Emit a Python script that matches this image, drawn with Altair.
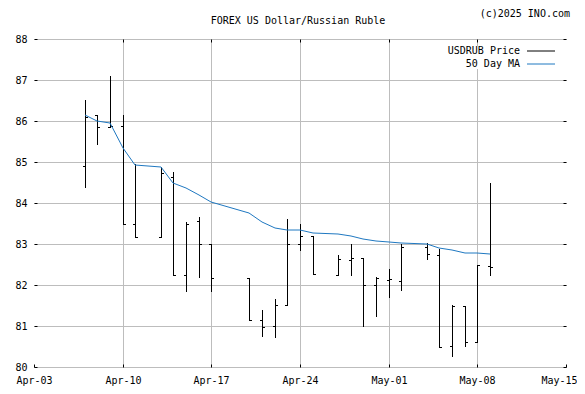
import altair as alt
import pandas as pd

# ---- data ----
dates = ["2025-04-07", "2025-04-08", "2025-04-09", "2025-04-10", "2025-04-11",
         "2025-04-13", "2025-04-14", "2025-04-15", "2025-04-16", "2025-04-17",
         "2025-04-20", "2025-04-21", "2025-04-22", "2025-04-23", "2025-04-24",
         "2025-04-25", "2025-04-27", "2025-04-28", "2025-04-29", "2025-04-30",
         "2025-05-01", "2025-05-02", "2025-05-04", "2025-05-05", "2025-05-06",
         "2025-05-07", "2025-05-08", "2025-05-09"]
opens = [84.91, 86.14, 85.85, 85.87, 83.50, 83.16, 84.63, 82.24, 83.56, 83.00,
         82.16, 81.15, 81.00, 81.51, 83.00, 83.20, 82.25, 82.62, 82.65, 81.99,
         82.12, 82.10, 82.92, 82.72, 80.51, 81.49, 80.62, 82.47]
highs = [86.51, 86.15, 87.10, 86.15, 84.95, 84.88, 84.75, 83.54, 83.65, 83.00,
         82.16, 81.39, 81.66, 83.61, 83.50, 83.20, 82.73, 83.00, 82.65, 82.19,
         82.39, 83.00, 83.02, 82.87, 81.51, 81.50, 82.50, 84.50]
lows = [84.37, 85.41, 85.82, 83.46, 83.15, 83.15, 82.22, 81.84, 82.18, 81.84,
        81.13, 80.74, 80.71, 81.50, 82.84, 82.27, 82.24, 82.23, 80.98, 81.23,
        81.69, 81.86, 82.61, 80.46, 80.24, 80.48, 80.60, 82.23]
closes = [86.10, 85.85, 85.88, 83.49, 83.16, 84.72, 82.24, 83.50, 82.99, 82.16,
          81.15, 80.97, 81.51, 83.00, 83.20, 82.27, 82.63, 82.66, 81.99, 82.17,
          82.15, 82.92, 82.75, 80.50, 81.50, 80.60, 82.50, 82.45]
ma50 = [86.15, 86.00, 85.94, 85.33, 84.93, 84.87, 84.50, 84.37, 84.19, 84.02,
        83.75, 83.54, 83.39, 83.34, 83.33, 83.26, 83.24, 83.19, 83.13, 83.08,
        83.04, 83.03, 83.01, 82.91, 82.85, 82.78, 82.77, 82.75]

series_names = ["USDRUB Price", "50 Day MA"]
series_colors = ["#000000", "#1f78c1"]
tick_days = [(4, 3), (4, 10), (4, 17), (4, 24), (5, 1), (5, 8), (5, 15)]
y_ticks = [80, 81, 82, 83, 84, 85, 86, 87, 88]
title_text = "FOREX US Dollar/Russian Ruble"
credit_text = "(c)2025 INO.com"

FONT = "DejaVu Sans Mono"
GRID = "#bdbdbd"

df = pd.DataFrame({"date": dates, "open": opens, "high": highs, "low": lows,
                   "close": closes, "ma": ma50})

tick_dt = [alt.DateTime(year=2025, month=m, date=d, utc=True) for m, d in tick_days]

xs = alt.Scale(type="utc", domain=[tick_dt[0], tick_dt[-1]], round=True)
ys = alt.Scale(domain=[80, 88], nice=False, zero=False, round=True)
cs = alt.Scale(domain=series_names, range=series_colors)

ax_bottom = alt.Axis(orient="bottom", values=tick_dt, title=None, grid=False,
                     domain=False, tickSize=3, offset=-3, tickColor="black",
                     labelExpr="utcFormat(datum.value, '%b-%d')",
                     labelOffset={"condition": {"test": "datum.index == 1", "value": -7},
                                  "value": 0},
                     labelPadding=8, labelFont=FONT, labelFontSize=10,
                     labelColor="black", labelFlush=False, labelOverlap=False)
ax_left = alt.Axis(orient="left", values=y_ticks, title=None, grid=True,
                   gridColor=GRID, domain=False, tickSize=3, offset=-3,
                   tickColor="black", labelPadding=7, labelFont=FONT,
                   labelFontSize=10, labelColor="black", format="d")
ax_top = alt.Axis(orient="top", values=tick_dt[1:-1], title=None, grid=True,
                  gridColor=GRID, domain=False, tickSize=3, offset=-3,
                  tickColor="black", labels=False)
ax_right = alt.Axis(orient="right", values=y_ticks, title=None, grid=False,
                    domain=False, tickSize=3, offset=-3, tickColor="black",
                    labels=False)

# labels right-aligned; the line symbol is drawn to the right of them
legend = alt.Legend(orient="none", legendX=406, legendY=7, title=None,
                    symbolType="M20.5,0H27.5", symbolSize=64, symbolStrokeWidth=1,
                    labelAlign="right", labelOffset=70,
                    labelFont=FONT, labelFontSize=10, labelColor="black",
                    rowPadding=3, fillColor="white", padding=0)

base = alt.Chart(df).transform_calculate(series="'USDRUB Price'")
xA = alt.X("date:T", scale=xs, axis=ax_bottom)
colA = alt.Color("series:N", scale=cs, legend=legend)

hl = base.mark_rule(strokeWidth=1, xOffset=0.5).encode(
    x=xA, y=alt.Y("low:Q", scale=ys, axis=ax_left), y2="high:Q", color=colA)
op = base.mark_rule(strokeWidth=1, xOffset=-2, x2Offset=1, yOffset=0.5, y2Offset=0.5).encode(
    x=xA, x2="date:T", y=alt.Y("open:Q", scale=ys, axis=ax_left), color=colA)
cl = base.mark_rule(strokeWidth=1, xOffset=0, x2Offset=3, yOffset=0.5, y2Offset=0.5).encode(
    x=xA, x2="date:T", y=alt.Y("close:Q", scale=ys, axis=ax_left), color=colA)

ohlc = alt.layer(hl, op, cl)

ma = alt.Chart(df).transform_calculate(series="'50 Day MA'").mark_line(
    strokeWidth=1).encode(
    x=alt.X("date:T", scale=xs, axis=ax_top),
    y=alt.Y("ma:Q", scale=ys, axis=ax_right),
    color=alt.Color("series:N", scale=cs, legend=legend))

texts = pd.DataFrame({"t": [title_text, credit_text]})
title_mark = alt.Chart(texts).transform_filter(
    alt.datum.t == title_text).mark_text(
    align="center", baseline="alphabetic", font=FONT, fontSize=10, color="black"
).encode(text="t:N", x=alt.value(264), y=alt.value(-15))
credit_mark = alt.Chart(texts).transform_filter(
    alt.datum.t == credit_text).mark_text(
    align="right", baseline="alphabetic", font=FONT, fontSize=10, color="black"
).encode(text="t:N", x=alt.value(536), y=alt.value(-22))

chart = alt.layer(ohlc, ma, title_mark, credit_mark).resolve_axis(
    x="independent", y="independent"
).properties(
    width=532, height=328,
    autosize=alt.AutoSizeParams(type="none"),
    padding={"left": 26, "top": 31, "right": 11, "bottom": 19},
    background="white",
).configure_view(stroke=None)

chart.save("out.html", embed_options={"renderer": "svg", "actions": False})
